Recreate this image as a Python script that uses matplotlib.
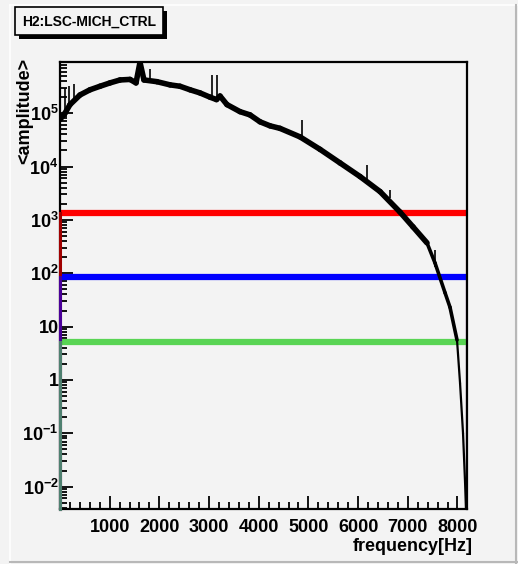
import numpy as np
import matplotlib
matplotlib.use("Agg")
import matplotlib.pyplot as plt
from matplotlib.collections import LineCollection
from matplotlib.lines import Line2D
from matplotlib.patches import Rectangle
from matplotlib.ticker import FixedLocator, LogLocator, NullFormatter

plt.rcParams['font.family'] = ['Liberation Sans', 'DejaVu Sans']
plt.rcParams['font.weight'] = 'bold'
plt.rcParams['mathtext.fontset'] = 'custom'
plt.rcParams['mathtext.rm'] = 'Liberation Sans:bold'
plt.rcParams['mathtext.it'] = 'Liberation Sans:bold'
plt.rcParams['mathtext.bf'] = 'Liberation Sans:bold'

# --- data ------------------------------------------------------------------
title = "H2:LSC-MICH_CTRL"
f_edges = [0, 8192]

# spectrum (black)
spec_freq = [0, 100, 201, 403, 604, 805, 1006, 1208, 1409, 1530, 1610, 1690,
             1952, 2214, 2415, 2617, 2818, 3019, 3150, 3221, 3361, 3623, 3824,
             4026, 4227, 4428, 4831, 5234, 5636, 6039, 6441, 6844, 7105, 7387,
             7549, 7750, 7850, 7991, 8052, 8112, 8153, 8192]
spec_amp = [7.6e4, 1.0e5, 1.45e5, 2.2e5, 2.75e5, 3.2e5, 3.7e5, 4.2e5, 4.3e5,
            3.7e5, 9.0e5, 4.2e5, 3.9e5, 3.4e5, 3.2e5, 2.75e5, 2.4e5, 2.0e5,
            1.8e5, 2.1e5, 1.45e5, 1.07e5, 9.3e4, 6.9e4, 5.8e4, 5.2e4, 3.6e4,
            2.1e4, 1.17e4, 6.5e3, 3.4e3, 1.4e3, 740, 370, 155, 43, 23, 5.6,
            0.87, 0.1, 0.012, 1e-3]

# narrow lines sticking out of the spectrum
spike_freq = [100, 180, 280, 1812, 3050, 3150, 4870, 6180, 6640, 7550]
spike_lo = [1.0e5, 1.4e5, 1.8e5, 4.0e5, 2.0e5, 1.9e5, 3.5e4, 5.5e3, 2.6e3, 130]
spike_hi = [3.0e5, 3.3e5, 3.5e5, 6.6e5, 5.3e5, 5.3e5, 7.6e4, 1.07e4, 3.7e3, 275]

# flat noise levels
level_names = ["red", "blue", "green"]
level_amp = [1350, 85, 5.1]
level_color = ["#ff0000", "#0000ff", "#59d454"]
level_edge_left = ["#a00000", "#4a0099", "#4f8070"]

x_ticks = [1000, 2000, 3000, 4000, 5000, 6000, 7000, 8000]
y_ticks = [1e-2, 1e-1, 1, 10, 1e2, 1e3, 1e4, 1e5]
y_labels = ['$10^{-2}$', '$10^{-1}$', '1', '10', '$10^{2}$', '$10^{3}$',
            '$10^{4}$', '$10^{5}$']
y_range = (10 ** -2.42, 10 ** 5.96)

# --- figure ----------------------------------------------------------------
W, H = 518, 564
bg = '#f3f3f3'
fig = plt.figure(figsize=(W / 100, H / 100), dpi=100, facecolor=bg)
ax = fig.add_axes([60 / W, 1 - 509 / H, 407 / W, 447 / H], facecolor=bg)
ax.set_yscale('log')
ax.set_xlim(f_edges[0], f_edges[1])
ax.set_ylim(*y_range)

# flat levels with their vertical edges
for amp, col, lcol in zip(level_amp, level_color, level_edge_left):
    ax.plot(f_edges, [amp, amp], color=col, lw=4.5, solid_capstyle='butt', zorder=2)
    ax.plot([f_edges[1], f_edges[1]], [y_range[0], amp], color=col, lw=1.5, zorder=2)
    ax.plot([f_edges[0], f_edges[0]], [y_range[0], amp], color=lcol, lw=2.2,
            zorder=5, clip_on=False)

# spectrum with thinner stroke in the steep fall-off
fx = np.array(spec_freq, dtype=float)
fy = np.array(spec_amp, dtype=float)
pts = np.column_stack([fx, fy]).reshape(-1, 1, 2)
segs = np.concatenate([pts[:-1], pts[1:]], axis=1)
widths = np.where(fx[:-1] < 7300, 4.0, np.where(fx[:-1] < 7900, 2.6, 1.6))
ax.add_collection(LineCollection(segs, colors='black', linewidths=widths,
                                 capstyle='round', joinstyle='round', zorder=3))
ax.vlines(spike_freq, spike_lo, spike_hi, colors='black', lw=1.2, zorder=3)

# axes style (ROOT look)
for s in ax.spines.values():
    s.set_linewidth(1.6)
ax.xaxis.set_major_locator(FixedLocator(x_ticks))
ax.xaxis.set_minor_locator(FixedLocator(np.arange(200, 8192, 200)))
ax.set_xticklabels([str(t) for t in x_ticks])
ax.yaxis.set_major_locator(FixedLocator(y_ticks))
ax.set_yticklabels(y_labels)
ax.yaxis.set_minor_locator(LogLocator(base=10, subs=np.arange(2, 10), numticks=30))
ax.yaxis.set_minor_formatter(NullFormatter())
ax.tick_params(axis='both', which='major', direction='in', length=9.5, width=1.3,
               labelsize=13, top=False, right=False)
ax.tick_params(axis='both', which='minor', direction='in', length=5, width=1.3,
               top=False, right=False)
ax.tick_params(axis='x', which='major', pad=7.5)
ax.tick_params(axis='y', which='major', pad=1)

fig.text(473 / W, 1 - 551 / H, "frequency[Hz]", ha='right', va='baseline',
         fontsize=13, fontweight='bold')
fig.text(25 / W, 1 - 58 / H, "<amplitude>", ha='center', va='top', rotation=90,
         fontsize=13, fontweight='bold')

# title box with shadow
fig.patches.append(Rectangle((19, H - 39), 148, 28, transform=None,
                             facecolor='black', edgecolor='black', lw=0))
fig.patches.append(Rectangle((15, H - 35), 148, 28, transform=None,
                             facecolor=bg, edgecolor='black', lw=1.2))
fig.text(89 / W, 1 - 22 / H, title, ha='center', va='center',
         fontsize=10, fontweight='bold')

# canvas bevel
fig.lines.append(Line2D([10, 517], [H - 5, H - 5], transform=None, color='white', lw=1.2))
fig.lines.append(Line2D([10, 10], [H - 5, H - 563], transform=None, color='white', lw=1.2))
fig.lines.append(Line2D([516, 516], [H - 5, H - 563], transform=None, color='#b8b8b8', lw=1.5))
fig.lines.append(Line2D([10, 517], [H - 562, H - 562], transform=None, color='#b8b8b8', lw=1.5))

fig.savefig("out.png", dpi=100, facecolor=bg)
